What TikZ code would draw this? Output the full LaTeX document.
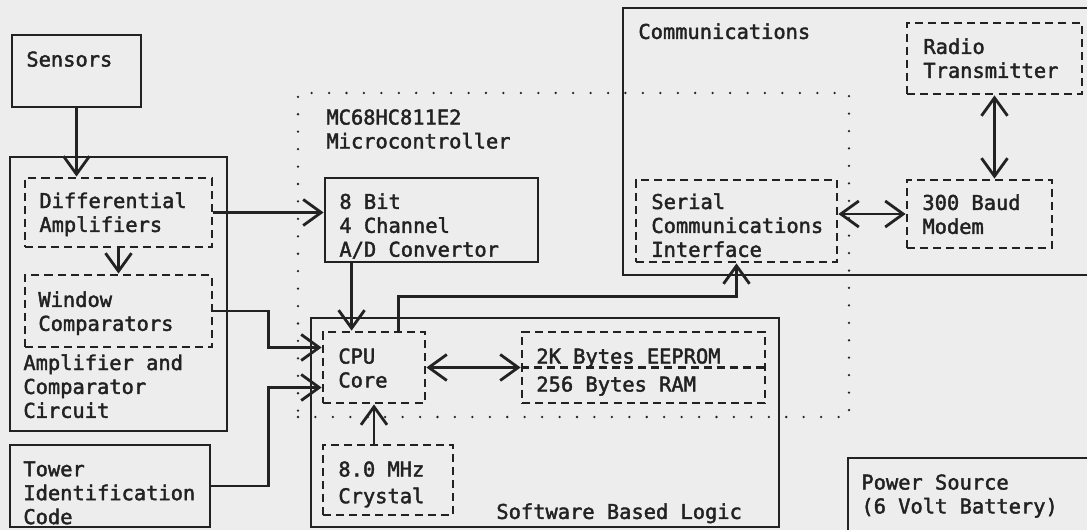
\documentclass[tikz,border=0pt]{standalone}
\usepackage{fontspec}
\setmainfont{DejaVu Sans Mono}[FakeBold=2]
\usetikzlibrary{arrows.meta, fit, calc}
\definecolor{ink}{HTML}{222222}
\definecolor{paper}{HTML}{EDEDED}
\tikzset{
  every picture/.style={line width=2pt, color=ink},
  block/.style={draw, rectangle, inner sep=0pt},
  dashes/.style={dash pattern=on 5.7pt off 3.6pt},
  part/.style={block, dashes},
  chip/.style={draw, rectangle, inner sep=0pt, line width=1.8pt, line cap=round, dash pattern=on 0pt off 12.4pt},
  txt/.style={anchor=north west, inner sep=0pt, align=left, font=\fontsize{14.5}{17}\selectfont},
  arrow/.style={-{Straight Barb[length=0.45cm, width=0.65cm]}},
  twoway/.style={{Straight Barb[length=0.45cm, width=0.65cm]}-{Straight Barb[length=0.45cm, width=0.65cm]}},
}
\begin{document}
\begin{tikzpicture}[x=0.025cm, y=-0.025cm]
  \path[use as bounding box, fill=paper] (0,0) rectangle (1087,530);
  % microcontroller outline
  \node[chip, fit={(298,93)(849,417)}] (mcu) {};
  \node[txt] (mcuT) at (325,108) {MC68HC811E2\\Microcontroller};
  % sensing side
  \node[block, fit={(12,35)(141,107)}] (sens) {};
  \node[txt] (sensT) at (25,50) {Sensors};
  \node[block, fit={(10,157)(227,431)}] (amp) {};
  \node[txt] (ampT) at (22,353) {Amplifier and\\Comparator\\Circuit};
  \node[part, fit={(25,178)(212,247)}] (diff) {};
  \node[txt] (diffT) at (38,191) {Differential\\Amplifiers};
  \node[part, fit={(25,275)(212,347)}] (win) {};
  \node[txt] (winT) at (37,290) {Window\\Comparators};
  \node[block, fit={(10,445)(210,527)}] (tower) {};
  \node[txt] (towerT) at (22,460) {Tower\\Identification\\Code};
  % processor
  \node[block, fit={(325,178)(538,262)}] (adc) {};
  \node[txt] (adcT) at (338,192) {8 Bit\\4 Channel\\A/D Convertor};
  \node[block, fit={(311,318)(779,527)}] (soft) {};
  \node[txt] (softT) at (495,502) {Software Based Logic};
  \node[part, fit={(323,332)(425,403)}] (cpu) {};
  \node[txt] (cpuT) at (337,347) {CPU\\Core};
  \node[part, fit={(522,332)(765,403)}] (mem) {};
  \draw[dashes] (mem.west) -- (mem.east);
  \node[txt] (eepT) at (535,347) {2K Bytes EEPROM};
  \node[txt] (ramT) at (535,375) {256 Bytes RAM};
  \node[part, fit={(323,445)(453,515)}] (xtal) {};
  \node[txt] (xtalT) at (337,460) {8.0 MHz\\[2pt]Crystal};
  % communications
  \node[block, fit={(623,8)(1100,275)}] (comm) {};
  \node[txt] (commT) at (637,22) {Communications};
  \node[part, fit={(907,23)(1082,94)}] (radio) {};
  \node[txt] (radioT) at (922,37) {Radio\\Transmitter};
  \node[part, fit={(636,180)(837,262)}] (sci) {};
  \node[txt] (sciT) at (650,192) {Serial\\Communications\\Interface};
  \node[part, fit={(907,180)(1052,248)}] (modem) {};
  \node[txt] (modemT) at (921,193) {300 Baud\\Modem};
  \node[block, fit={(848,458)(1100,540)}] (power) {};
  \node[txt] (powerT) at (860,473) {Power Source\\(6 Volt Battery)};
  % connections
  \draw[arrow] (sens.south) -- (sens.south |- diff.north);
  \draw[arrow] (diff.south) -- (win.north);
  \draw[arrow] (diff.east) -- (adc.west |- diff.east);
  \coordinate (cpuA) at ([yshift=0.5cm]cpu.west);
  \coordinate (cpuB) at ([yshift=-0.5cm]cpu.west);
  \draw[arrow] (win.east) -- ++(55,0) |- (cpuA);
  \draw[arrow] (tower.east) -- ++(57,0) |- (cpuB);
  \coordinate (adcOut) at ([xshift=0.7cm]adc.south west);
  \draw[arrow] (adcOut) -- (adcOut |- cpu.north);
  \draw[arrow] (xtal.north -| cpu.south) -- (cpu.south);
  \draw[twoway] (cpu) -- (mem);
  \coordinate (cpuOut) at ([xshift=-0.7cm]cpu.north east);
  \draw[arrow] (cpuOut) -- ++(0,-34) -| (sci.south);
  \draw[twoway] (sci.east |- modem.west) -- (modem.west);
  \draw[twoway] (radio.south) -- (radio.south |- modem.north);
\end{tikzpicture}
\end{document}
